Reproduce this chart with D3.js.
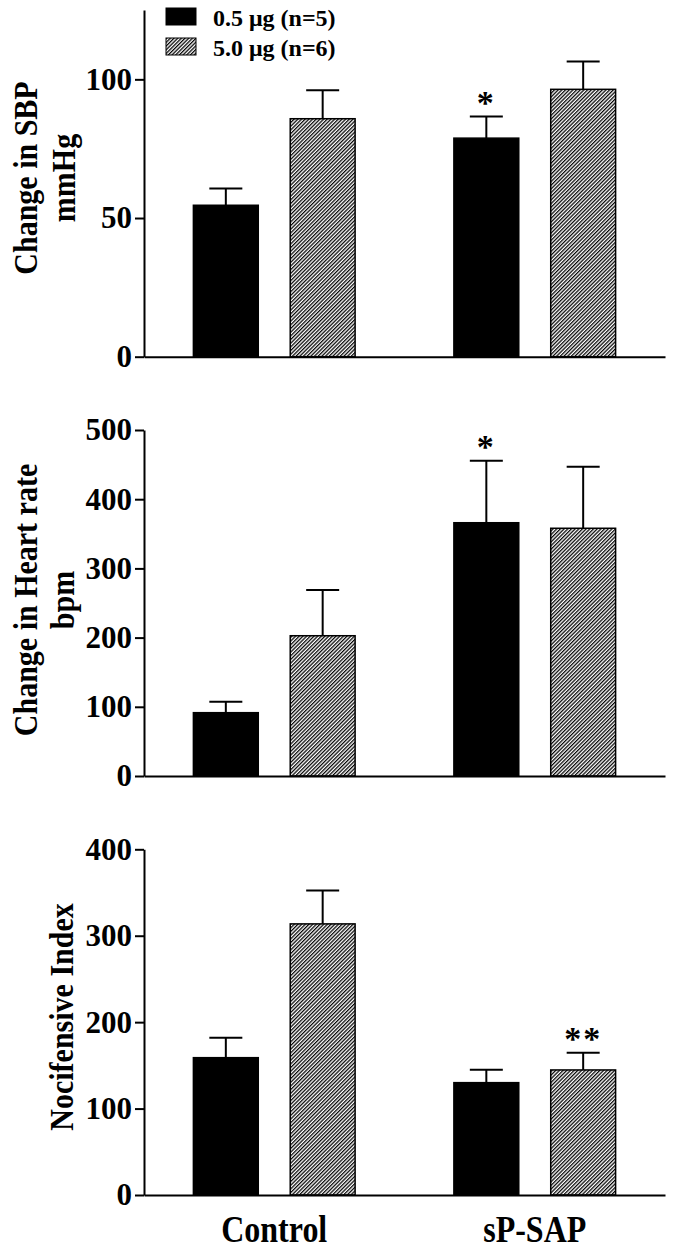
<!DOCTYPE html>
<html>
<head>
<meta charset="utf-8">
<script src="https://cdn.jsdelivr.net/npm/d3@7"></script>
<style>
  body { margin: 0; background: #fff; }
  text { font-family: "Liberation Serif", "Times New Roman", serif; font-weight: bold; fill: #000; }
</style>
</head>
<body>
<svg id="chart" width="677" height="1253"></svg>
<script>
// categories and series
var groups = ["Control", "sP-SAP"];
var doses = ["0.5 μg (n=5)", "5.0 μg (n=6)"];

// rows = group, columns = dose (0.5 µg, 5.0 µg)
var sbpMeans = [[54.6, 85.8], [78.8, 96.4]];
var sbpErrs  = [[6.0, 10.3], [7.8, 10.0]];
var sbpSig   = [["", ""], ["*", ""]];
var sbpTicks = [0, 50, 100];
var sbpMax = 125;

var hrMeans = [[91.5, 202.7], [366, 358]];
var hrErrs  = [[15.9, 66.1], [89.6, 89]];
var hrSig   = [["", ""], ["*", ""]];
var hrTicks = [0, 100, 200, 300, 400, 500];
var hrMax = 500;

var niMeans = [[158.9, 313.7], [130, 144.7]];
var niErrs  = [[23.1, 38.5], [15, 20]];
var niSig   = [["", ""], ["", "**"]];
var niTicks = [0, 100, 200, 300, 400];
var niMax = 400;

var panels = [
  {means: sbpMeans, errs: sbpErrs, sig: sbpSig, ticks: sbpTicks, max: sbpMax,
   top: 10, bottom: 356.7, title: ["Change in SBP", "mmHg"], titleX: [37, 75], titleY: 178},
  {means: hrMeans, errs: hrErrs, sig: hrSig, ticks: hrTicks, max: hrMax,
   top: 430, bottom: 776, title: ["Change in Heart rate", "bpm"], titleX: [37, 74], titleY: 600},
  {means: niMeans, errs: niErrs, sig: niSig, ticks: niTicks, max: niMax,
   top: 849.3, bottom: 1195, title: ["Nocifensive Index"], titleX: [73], titleY: 1017}
];

var svg = d3.select("#chart");

// diagonal hatch fill
var pat = svg.append("defs").append("pattern")
  .attr("id", "hatch")
  .attr("patternUnits", "userSpaceOnUse")
  .attr("width", 2.6).attr("height", 2.6)
  .attr("patternTransform", "rotate(45)");
pat.append("rect").attr("width", 2.6).attr("height", 2.6).attr("fill", "#fff");
pat.append("line")
  .attr("x1", 0.65).attr("y1", 0).attr("x2", 0.65).attr("y2", 2.6)
  .attr("stroke", "#000").attr("stroke-width", 1.25);

var fills = ["#000", "url(#hatch)"];

var x0 = d3.scaleBand().domain(groups).range([144, 665]);
var x1 = d3.scaleBand().domain(doses).range([0, x0.bandwidth()])
  .paddingInner(0.33).paddingOuter(0.51);
var capW = 33;

panels.forEach(function(p) {
  var y = d3.scaleLinear().domain([0, p.max]).range([p.bottom, p.top]);
  var g = svg.append("g");

  var grp = g.selectAll("g.grp")
    .data(groups)
    .enter().append("g")
    .attr("class", "grp")
    .attr("transform", function(d) { return "translate(" + x0(d) + ",0)"; });

  var cell = grp.selectAll("g.bar")
    .data(function(d, i) {
      return doses.map(function(dose, j) {
        return {dose: dose, j: j, v: p.means[i][j], e: p.errs[i][j], s: p.sig[i][j]};
      });
    })
    .enter().append("g").attr("class", "bar");

  // error bars (upper only)
  cell.append("line")
    .attr("x1", function(d) { return x1(d.dose) + x1.bandwidth() / 2; })
    .attr("x2", function(d) { return x1(d.dose) + x1.bandwidth() / 2; })
    .attr("y1", function(d) { return y(d.v); })
    .attr("y2", function(d) { return y(d.v + d.e); })
    .attr("stroke", "#000").attr("stroke-width", 2);
  cell.append("line")
    .attr("x1", function(d) { return x1(d.dose) + x1.bandwidth() / 2 - capW / 2; })
    .attr("x2", function(d) { return x1(d.dose) + x1.bandwidth() / 2 + capW / 2; })
    .attr("y1", function(d) { return y(d.v + d.e); })
    .attr("y2", function(d) { return y(d.v + d.e); })
    .attr("stroke", "#000").attr("stroke-width", 2);

  cell.append("rect")
    .attr("x", function(d) { return x1(d.dose); })
    .attr("y", function(d) { return y(d.v); })
    .attr("width", x1.bandwidth())
    .attr("height", function(d) { return y(0) - y(d.v); })
    .attr("fill", function(d) { return fills[d.j]; })
    .attr("stroke", "#000").attr("stroke-width", 1.5);

  cell.filter(function(d) { return d.s; }).append("text")
    .attr("x", function(d) { return x1(d.dose) + x1.bandwidth() / 2; })
    .attr("y", function(d) { return y(d.v + d.e) - 3; })
    .attr("text-anchor", "middle")
    .attr("font-size", 34)
    .attr("letter-spacing", 2)
    .text(function(d) { return d.s; });

  // y axis
  g.append("g")
    .attr("transform", "translate(144,0)")
    .call(d3.axisLeft(y).tickValues(p.ticks).tickSize(9).tickPadding(3).tickSizeOuter(0))
    .attr("font-family", null).attr("font-size", 31)
    .call(function(a) { a.selectAll("path, line").attr("stroke-width", 2); });

  // x axis line
  g.append("g")
    .attr("transform", "translate(0," + y(0) + ")")
    .call(d3.axisBottom(x0).tickValues([]).tickSizeOuter(0))
    .call(function(a) { a.select("path").attr("stroke-width", 2); });

  // rotated y titles
  p.title.forEach(function(t, k) {
    g.append("text")
      .attr("transform", "translate(" + p.titleX[k] + "," + p.titleY + ") scale(1.12,1) rotate(-90)")
      .attr("text-anchor", "middle")
      .attr("font-size", 30)
      .text(t);
  });
});

// category labels under the last panel
svg.selectAll("text.cat")
  .data(groups)
  .enter().append("text")
  .attr("class", "cat")
  .attr("transform", function(d) {
    return "translate(" + (x0(d) + x0.bandwidth() / 2) + ",1242) scale(1,1.2)";
  })
  .attr("text-anchor", "middle")
  .attr("font-size", 32)
  .text(function(d) { return d; });

// legend
var leg = svg.append("g").selectAll("g")
  .data(doses)
  .enter().append("g")
  .attr("transform", function(d, i) { return "translate(166," + (8 + i * 30) + ")"; });
leg.append("rect")
  .attr("width", 30).attr("height", 17)
  .attr("fill", function(d, i) { return fills[i]; })
  .attr("stroke", "#000").attr("stroke-width", 1);
leg.append("text")
  .attr("x", 47).attr("y", 18)
  .attr("font-size", 24)
  .text(function(d) { return d; });
</script>
</body>
</html>
